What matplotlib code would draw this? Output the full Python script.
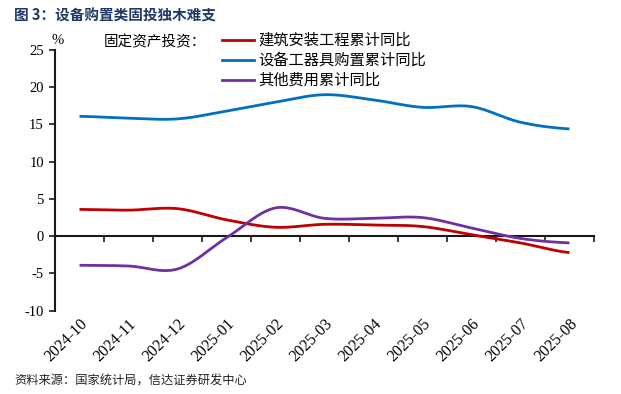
import numpy as np
import matplotlib
matplotlib.use("Agg")
import matplotlib.pyplot as plt
from matplotlib.lines import Line2D

plt.rcParams['axes.unicode_minus'] = False
CJK = ['Noto Sans CJK SC', 'DejaVu Sans']
SERIF = ['Liberation Serif', 'DejaVu Serif']

months = ["2024-10", "2024-11", "2024-12", "2025-01", "2025-02", "2025-03",
          "2025-04", "2025-05", "2025-06", "2025-07", "2025-08"]
construction = [3.6, 3.5, 3.7, 2.2, 1.2, 1.6, 1.5, 1.3, 0.2, -0.9, -2.2]
equipment = [16.1, 15.85, 15.75, 16.8, 18.0, 19.0, 18.3, 17.3, 17.4, 15.3, 14.4]
other = [-3.9, -4.0, -4.4, -0.2, 3.8, 2.4, 2.4, 2.5, 1.1, -0.3, -0.9]

series_names = ["建筑安装工程累计同比", "设备工器具购置累计同比", "其他费用累计同比"]
colors = ["#C00000", "#0070C0", "#7030A0"]
yticks = [-10, -5, 0, 5, 10, 15, 20, 25]


def smooth(y, n=40):
    """Catmull-Rom style smoothing (like Excel's smoothed line) for drawing."""
    y = np.asarray(y, float)
    x = np.arange(len(y), dtype=float)
    m = np.empty_like(y)
    m[1:-1] = (y[2:] - y[:-2]) / 2.0
    m[0] = (y[1] - y[0]) / 2.0
    m[-1] = (y[-1] - y[-2]) / 2.0
    xs, ys = [], []
    t = np.linspace(0, 1, n, endpoint=False)
    for i in range(len(y) - 1):
        h00 = 2 * t**3 - 3 * t**2 + 1
        h10 = t**3 - 2 * t**2 + t
        h01 = -2 * t**3 + 3 * t**2
        h11 = t**3 - t**2
        ys.append(h00 * y[i] + h10 * m[i] + h01 * y[i + 1] + h11 * m[i + 1])
        xs.append(x[i] + t)
    xs.append([x[-1]])
    ys.append([y[-1]])
    return np.concatenate(xs), np.concatenate(ys)


W, H = 621, 394
fig = plt.figure(figsize=(W / 100, H / 100), dpi=100)
ax = fig.add_axes([55 / W, 1 - 310.7 / H, (594 - 55) / W, (310.7 - 50) / H])

for vals, c in zip([construction, equipment, other], colors):
    xs, ys = smooth(vals)
    ax.plot(xs, ys, color=c, lw=2.0, solid_capstyle='butt', zorder=3)

ymin, ymax = -10, 25
ax.set_xlim(-0.5, len(months) - 0.5)
ax.set_ylim(ymin, ymax)

for s in ['top', 'right', 'bottom']:
    ax.spines[s].set_visible(False)
ax.spines['left'].set_linewidth(1.5)
ax.spines['left'].set_color('#1a1a1a')

ax.set_yticks(yticks)
ax.set_yticklabels([str(v) for v in yticks], fontfamily=SERIF, fontsize=10.5)
ax.tick_params(axis='y', direction='out', length=4, width=1.2, color='#1a1a1a', pad=4)

ax.set_xticks(range(len(months)))
ax.set_xticklabels(months, rotation=45, ha='right', va='top', rotation_mode='anchor',
                   fontfamily=SERIF, fontsize=11.5)
ax.tick_params(axis='x', length=0, pad=4)

# zero axis with boundary ticks
sec = ax.secondary_xaxis((0 - ymin) / (ymax - ymin))
sec.spines['bottom'].set_linewidth(1.5)
sec.spines['bottom'].set_color('#1a1a1a')
sec.set_xticks(np.arange(0.5, len(months), 1.0))
sec.set_xticklabels([])
sec.tick_params(axis='x', direction='out', length=4, width=1.2, color='#1a1a1a')

# "%" unit label
fig.text(52 / W, 1 - 41 / H, "%", fontfamily=SERIF, fontsize=10.5, ha='left', va='center')

# legend
fig.text(104 / W, 1 - 42 / H, "固定资产投资：", fontfamily=CJK, fontsize=10.5,
         ha='left', va='center')
handles = [Line2D([], [], color=c, lw=2.0) for c in colors]
leg = fig.legend(handles, series_names, loc='upper left',
                 bbox_to_anchor=(222 / W, 1 - 32 / H), frameon=False,
                 prop={'family': CJK, 'size': 11}, handlelength=2.1,
                 handletextpad=0.3, labelspacing=0.2, borderaxespad=0,
                 borderpad=0)

# title
fig.text(14 / W, 1 - 16 / H, "图 3：设备购置类固投独木难支", fontfamily=CJK,
         fontsize=10.5, fontweight='bold', color='#1F3864', ha='left', va='center')

# source
fig.text(14 / W, 1 - 381 / H, "资料来源：国家统计局，信达证券研发中心", fontfamily=CJK,
         fontsize=8.8, style='italic', color='#222222', ha='left', va='center')

fig.savefig("out.png", dpi=100)
